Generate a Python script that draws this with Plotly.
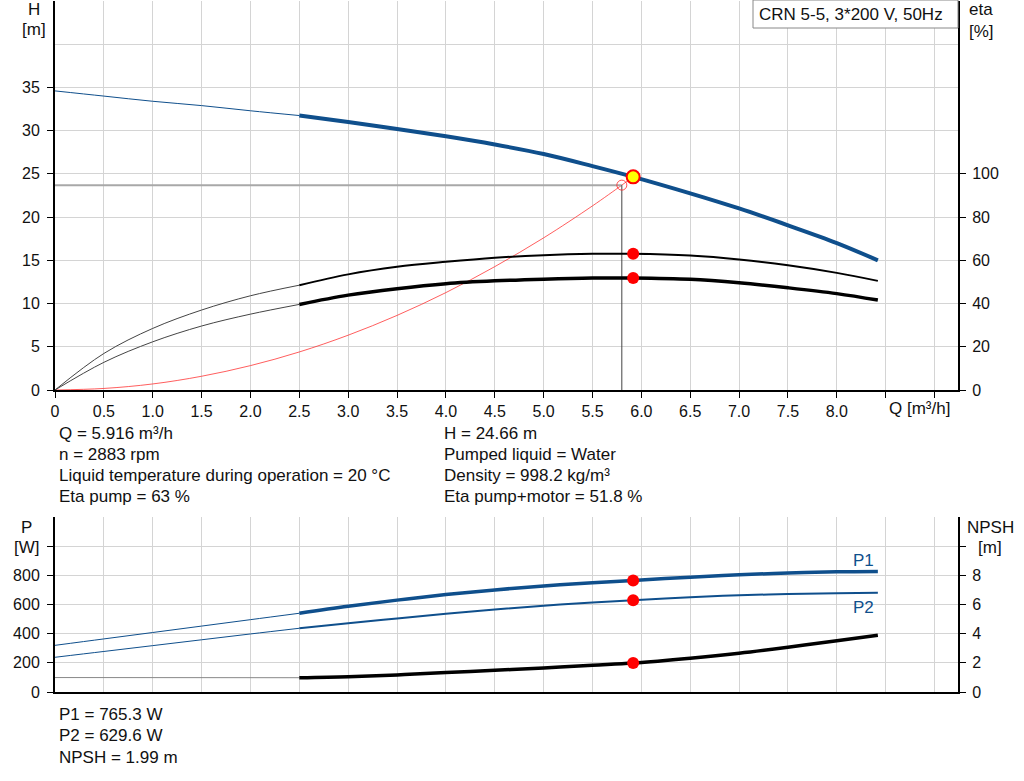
import plotly.graph_objects as go

# ---- data ----
q_thin = [0, 0.5, 1.0, 1.5, 2.0, 2.5]
q_thick = [2.5, 3.0, 3.5, 4.0, 4.5, 5.0, 5.5, 5.916, 6.5, 7.0, 7.5, 8.0, 8.42]

h_thin = [34.6, 34.0, 33.4, 32.9, 32.3, 31.75]
h_thick = [31.75, 31.0, 30.2, 29.35, 28.4, 27.3, 25.9, 24.66, 22.75, 21.0, 19.05, 17.0, 15.0]

eta_pump_thin = [0, 16.9, 28.5, 37.0, 43.6, 48.5]
eta_pump_thick = [48.5, 53.5, 57.0, 59.3, 61.2, 62.4, 63.0, 63.0, 62.2, 60.4, 57.7, 54.2, 50.5]
eta_tot_thin = [0, 12.8, 22.3, 29.6, 35.1, 39.6]
eta_tot_thick = [39.6, 43.9, 46.9, 49.2, 50.5, 51.3, 51.8, 51.8, 51.2, 49.6, 47.3, 44.6, 41.6]

p1_thin = [320, 364, 408, 452, 496, 540]
p1_thick = [540, 588, 630, 668, 700, 727, 749, 765.3, 787, 804, 816, 824, 827]
p2_thin = [238, 278, 318, 358, 398, 437]
p2_thick = [437, 471, 504, 537, 566, 592, 614, 629.6, 650, 663, 672, 678, 680]

npsh_thin_q = [0, 2.5]
npsh_thin = [0.99, 0.98]
npsh_thick = [0.98, 1.05, 1.17, 1.33, 1.49, 1.65, 1.84, 1.99, 2.32, 2.66, 3.07, 3.52, 3.89]

sys_q = [0, 0.5, 1.0, 1.5, 2.0, 2.5, 3.0, 3.5, 4.0, 4.5, 5.0, 5.5, 5.8, 5.916]
sys_h = [0, 0.18, 0.70, 1.59, 2.82, 4.40, 6.34, 8.63, 11.27, 14.27, 17.6, 21.3, 23.7, 24.66]

duty_q, duty_h = 5.916, 24.66
duty_eta_pump, duty_eta_tot = 63.0, 51.8
duty_p1, duty_p2, duty_npsh = 765.3, 629.6, 1.99
req_q, req_h = 5.8, 23.7

q_ticks = [i * 0.5 for i in range(19)]
q_labels = ["0"] + [f"{v:.1f}" for v in q_ticks[1:17]] + ["", ""]
h_ticks = [0, 5, 10, 15, 20, 25, 30, 35]
eta_ticks = [0, 20, 40, 60, 80, 100]
p_ticks = [0, 200, 400, 600, 800, 1000]
p_labels = ["0", "200", "400", "600", "800", ""]
npsh_ticks = [0, 2, 4, 6, 8, 10]
npsh_labels = ["0", "2", "4", "6", "8", ""]

left_lines = ["Q = 5.916 m³/h", "n = 2883 rpm",
              "Liquid temperature during operation = 20 °C", "Eta pump = 63 %"]
right_lines = ["H = 24.66 m", "Pumped liquid = Water",
               "Density = 998.2 kg/m³", "Eta pump+motor = 51.8 %"]
bottom_lines = ["P1 = 765.3 W", "P2 = 629.6 W", "NPSH = 1.99 m"]

# ---- page geometry ----
W, HT = 1024, 781
L, R, T, B = 55, 66, 1, 89
pw, ph = W - L - R, HT - T - B


def px(x):
    return (x - L) / pw


def py(y):
    return (HT - B - y) / ph


BLUE = "#0f4f8c"
GRID = "#d4d4d4"
FONT = "Liberation Sans, Arial, sans-serif"
TXT = "#111111"

fig = go.Figure()


def line(x, y, color, width, ax="y", xa="x"):
    fig.add_trace(go.Scatter(x=x, y=y, mode="lines", xaxis=xa, yaxis=ax,
                             line=dict(color=color, width=width, shape="spline"),
                             hoverinfo="skip"))


# top chart
line(q_thin, h_thin, BLUE, 1)
line(q_thick, h_thick, BLUE, 4)
line(q_thin, eta_pump_thin, "#444444", 1, "y2")
line(q_thick, eta_pump_thick, "black", 2, "y2")
line(q_thin, eta_tot_thin, "#444444", 1, "y2")
line(q_thick, eta_tot_thick, "black", 3.5, "y2")
line(sys_q, sys_h, "rgba(255,40,40,0.75)", 1)
fig.add_trace(go.Scatter(x=[0, req_q], y=[req_h, req_h], mode="lines",
                         line=dict(color="#a8a8a8", width=2), hoverinfo="skip"))
fig.add_trace(go.Scatter(x=[req_q, req_q], y=[0, req_h], mode="lines",
                         line=dict(color="#444444", width=1), hoverinfo="skip"))
fig.add_trace(go.Scatter(x=[req_q], y=[req_h], mode="markers",
                         marker=dict(size=10, color="rgba(0,0,0,0)",
                                     line=dict(color="rgba(255,40,40,0.8)", width=1)),
                         hoverinfo="skip"))
fig.add_trace(go.Scatter(x=[duty_q, duty_q], y=[duty_eta_pump, duty_eta_tot],
                         mode="markers", yaxis="y2",
                         marker=dict(size=12, color="red"), hoverinfo="skip"))
fig.add_trace(go.Scatter(x=[duty_q], y=[duty_h], mode="markers",
                         marker=dict(size=13, color="yellow",
                                     line=dict(color="red", width=2)),
                         hoverinfo="skip"))

# bottom chart
line(q_thin, p1_thin, BLUE, 1, "y3", "x2")
line(q_thick, p1_thick, BLUE, 3.5, "y3", "x2")
line(q_thin, p2_thin, BLUE, 1, "y3", "x2")
line(q_thick, p2_thick, BLUE, 2, "y3", "x2")
line(npsh_thin_q, npsh_thin, "#888888", 1, "y4", "x2")
line(q_thick, npsh_thick, "black", 3.5, "y4", "x2")
fig.add_trace(go.Scatter(x=[duty_q, duty_q], y=[duty_p1, duty_p2], mode="markers",
                         xaxis="x2", yaxis="y3",
                         marker=dict(size=12, color="red"), hoverinfo="skip"))
fig.add_trace(go.Scatter(x=[duty_q], y=[duty_npsh], mode="markers",
                         xaxis="x2", yaxis="y4",
                         marker=dict(size=12, color="red"), hoverinfo="skip"))

axis_common = dict(showline=True, linecolor="black", linewidth=2, zeroline=False,
                   ticks="outside", ticklen=6, tickcolor="black", tickwidth=1,
                   tickfont=dict(family=FONT, size=16, color=TXT))

top_dom = [py(390), 1]
bot_dom = [0, py(517)]

fig.update_layout(
    width=W, height=HT,
    margin=dict(l=L, r=R, t=T, b=B),
    paper_bgcolor="white", plot_bgcolor="white",
    showlegend=False,
    font=dict(family=FONT, size=16, color=TXT),
    xaxis=dict(axis_common, domain=[0, 1], range=[0, 9.24], anchor="y",
               tickmode="array", tickvals=q_ticks, ticktext=q_labels,
               showgrid=True, gridcolor=GRID, ticklabelstandoff=0),
    yaxis=dict(axis_common, domain=top_dom, range=[0, 45], anchor="x",
               tickmode="array", tickvals=h_ticks,
               showgrid=True, gridcolor=GRID, ticklabelstandoff=4,
               minor=dict(tickvals=[40, 45], showgrid=True, gridcolor=GRID, ticks="")),
    yaxis2=dict(axis_common, range=[0, 180], overlaying="y", side="right", anchor="x",
                tickmode="array", tickvals=eta_ticks, showgrid=False,
                ticklabelstandoff=3),
    xaxis2=dict(axis_common, domain=[0, 1], range=[0, 9.24], anchor="y3",
                tickmode="array", tickvals=q_ticks, ticks="", showticklabels=False,
                showgrid=True, gridcolor=GRID),
    yaxis3=dict(axis_common, domain=bot_dom, range=[0, 1200], anchor="x2",
                tickmode="array", tickvals=p_ticks, ticktext=p_labels,
                showgrid=True, gridcolor=GRID, ticklabelstandoff=4,
                minor=dict(tickvals=[1200], showgrid=True, gridcolor=GRID, ticks="")),
    yaxis4=dict(axis_common, range=[0, 12], overlaying="y3", side="right", anchor="x2",
                tickmode="array", tickvals=npsh_ticks, ticktext=npsh_labels,
                showgrid=False, ticklabelstandoff=3),
)


def note(text, x, y, anchor="left", color=TXT):
    fig.add_annotation(text=text, x=px(x), y=py(y), xref="paper", yref="paper",
                       xanchor=anchor, yanchor="middle", showarrow=False,
                       font=dict(family=FONT, size=17, color=color))


# axis titles
note("H", 34, 10, "center")
note("[m]", 34, 30, "center")
note("eta", 981, 10, "center")
note("[%]", 981, 31, "center")
note("P", 26, 527, "center")
note("[W]", 27, 547, "center")
note("NPSH", 991, 527, "center")
note("[m]", 990, 547, "center")
note("Q [m³/h]", 887, 408)

# title box
fig.add_shape(type="rect", xref="paper", yref="paper",
              x0=px(753), x1=px(958), y0=py(28), y1=py(0),
              line=dict(color="#888888", width=1), fillcolor="white")
note("CRN 5-5, 3*200 V, 50Hz", 757, 14)

# curve labels
note("P1", 851, 560, color=BLUE)
note("P2", 851, 607, color=BLUE)

for i, t in enumerate(left_lines):
    note(t, 57, 433 + i * 21.3)
for i, t in enumerate(right_lines):
    note(t, 442, 433 + i * 21.3)
for i, t in enumerate(bottom_lines):
    note(t, 57, 714 + i * 21.5)

fig.write_html("out.html", config={"displayModeBar": False},
               post_script="document.body.style.margin='0px';")
